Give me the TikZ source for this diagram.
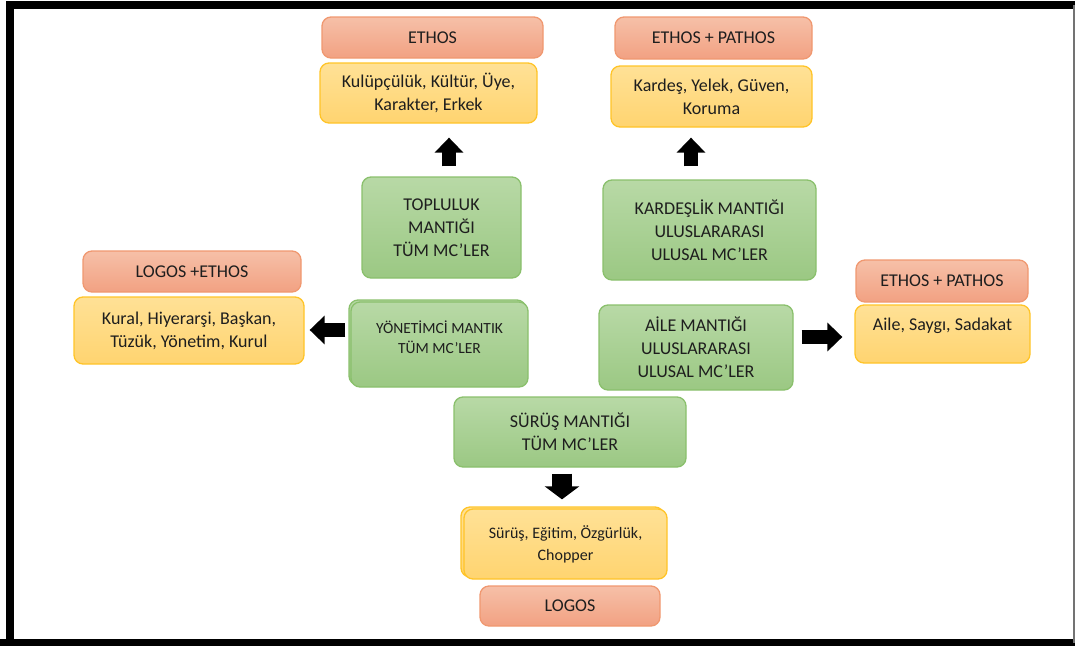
\documentclass[tikz,border=0pt]{standalone}
\usepackage{fontspec}
\setmainfont{Carlito}
\usetikzlibrary{arrows.meta,calc}
\definecolor{txt}{RGB}{30,30,30}
\definecolor{salTop}{RGB}{246,192,168}
\definecolor{salBot}{RGB}{242,161,130}
\definecolor{salLine}{RGB}{240,152,112}
\definecolor{yelTop}{RGB}{255,225,150}
\definecolor{yelBot}{RGB}{255,212,112}
\definecolor{yelLine}{RGB}{255,196,40}
\definecolor{grnTop}{RGB}{184,217,166}
\definecolor{grnBot}{RGB}{155,200,131}
\definecolor{grnLine}{RGB}{138,192,108}
\begin{document}
\begin{tikzpicture}[x=1pt,y=-1pt,
  box/.style={rounded corners=9pt, line width=1.3pt, align=center, text=txt,
    font=\fontsize{18}{23}\selectfont, inner sep=0pt},
  txtnode/.style={align=center, text=txt, font=\fontsize{18}{23}\selectfont, inner sep=0pt},
  smalltext/.style={font=\fontsize{15.5}{21}\selectfont},
  salbox/.style={box, top color=salTop, bottom color=salBot, draw=salLine},
  yelbox/.style={box, top color=yelTop, bottom color=yelBot, draw=yelLine},
  grnbox/.style={box, top color=grnTop, bottom color=grnBot, draw=grnLine},
  sz/.style 2 args={minimum width=#1, minimum height=#2},
  bigarrow/.style={line width=14pt, -{Triangle[width=28pt,length=15pt]}},
  widearrow/.style={line width=20pt, -{Triangle[width=34pt,length=13pt]}},
  frameline/.style={line width=8pt, black}
]
\useasboundingbox (0,0) rectangle (1075,645);
% frame
\draw[frameline] (10,649) -- (10,5) -- (1080,5);
\draw[frameline] (0,643) -- (1080,643);
\draw[line width=1.5pt, black!55] (1074,5) -- (1074,643);

% top left column
\node[salbox, sz={221pt}{41pt}] (ethosA) at (432.5,37.5) {ETHOS};
\node[yelbox, sz={217pt}{60pt}] (kulup) at (428.5,93) {Kulüpçülük, Kültür, Üye,\\Karakter, Erkek};
\node[grnbox, sz={159pt}{101pt}] (toplu) at (441.5,227.5) {TOPLULUK\\MANTIĞI\\TÜM MC’LER};

% top right column
\node[salbox, sz={197pt}{42pt}] (ethosB) at (713.5,38) {ETHOS + PATHOS};
\node[yelbox, sz={201pt}{61pt}] (kardes) at (711.5,96.5) {Kardeş, Yelek, Güven,\\Koruma};
\node[grnbox, sz={213pt}{100pt}] (kardeslik) at (709.5,230) {KARDEŞLİK MANTIĞI\\ULUSLARARASI\\ULUSAL MC’LER};

% left side
\node[salbox, sz={218pt}{41pt}] (logeth) at (192,271.5) {LOGOS +ETHOS};
\node[yelbox, sz={230pt}{67pt}] (kural) at (189,330.5) {Kural, Hiyerarşi, Başkan,\\Tüzük, Yönetim, Kurul};
\node[grnbox, sz={177pt}{85pt}] (yonback) at (437.5,342.5) {};
\node[grnbox, sz={177pt}{85pt}] (yon) at (439.5,344.5) {};
\node[txtnode, smalltext, font=\fontsize{15.5}{20}\selectfont] (yonT) at ($(yon.center)+(0,-7.5)$) {YÖNETİMCİ MANTIK\\TÜM MC’LER};

% right side
\node[grnbox, sz={194pt}{85pt}] (aile) at (696,347.5) {AİLE MANTIĞI\\ULUSLARARASI\\ULUSAL MC’LER};
\node[salbox, sz={172pt}{42pt}] (ethosC) at (942,281) {ETHOS + PATHOS};
\node[yelbox, sz={175pt}{58pt}] (ailey) at (942.5,334) {};
\node[txtnode] (aileyT) at ($(ailey.center)+(0,-8)$) {Aile, Saygı, Sadakat};

% bottom
\node[grnbox, sz={232pt}{70pt}] (surus) at (570,432) {SÜRÜŞ MANTIĞI\\TÜM MC’LER};
\node[yelbox, sz={203pt}{70pt}] (surusyback) at (562.5,542) {};
\node[yelbox, sz={203pt}{70pt}, font=\fontsize{16}{22}\selectfont] (surusy) at (565.5,544) {Sürüş, Eğitim, Özgürlük,\\Chopper};
\node[salbox, sz={180pt}{40pt}] (logos) at (570,606) {LOGOS};

% block arrows
\draw[bigarrow] ($(toplu.north)+(7.5,-10)$) -- ($(kulup.south)+(20.5,14)$);
\draw[bigarrow] ($(kardeslik.north)+(-18.5,-13)$) -- ($(kardes.south)+(-20.5,10)$);
\draw[bigarrow] ($(yon.west)+(-5,-14.5)$) -- ($(kural.east)+(5,-0.5)$);
\draw[bigarrow] ($(aile.east)+(8,-10.5)$) -- ($(ailey.west)+(-12,3)$);
\draw[widearrow] ($(surus.south)+(-8,6)$) -- ($(surusy.north)+(-3.5,-9)$);
\end{tikzpicture}
\end{document}
